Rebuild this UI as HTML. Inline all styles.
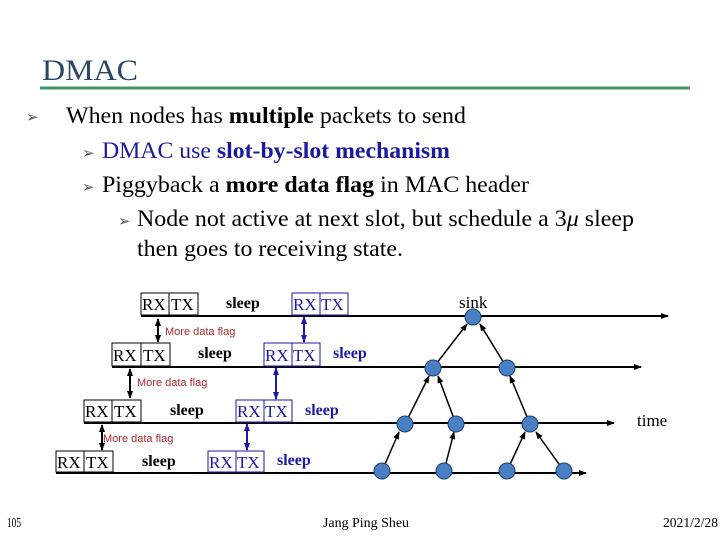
<!DOCTYPE html>
<html><head><meta charset="utf-8"><style>
html,body{margin:0;padding:0;background:#fff}
svg{display:block}
.s{font-family:"Liberation Serif",serif}
.a{font-family:"Liberation Sans",sans-serif}
</style></head><body>
<svg width="720" height="540" viewBox="0 0 720 540" xmlns="http://www.w3.org/2000/svg">
<defs>
<marker id="ak" markerWidth="8" markerHeight="8" refX="7" refY="4" orient="auto-start-reverse" markerUnits="userSpaceOnUse"><path d="M0,1 L8,4 L0,7 Z" fill="#000"/></marker>
<marker id="ab" markerWidth="8" markerHeight="8" refX="7" refY="4" orient="auto-start-reverse" markerUnits="userSpaceOnUse"><path d="M0,1 L8,4 L0,7 Z" fill="#1a1aa8"/></marker>
</defs>
<text class="s" x="42" y="80" font-size="30" fill="#2c4668" textLength="96" lengthAdjust="spacingAndGlyphs">DMAC</text>
<rect x="40" y="86.5" width="650" height="3" fill="#3c9a5c"/>
<g class="s" font-size="23">
<text x="26" y="122" font-size="15" fill="#555">➢</text>
<text x="66" y="123" textLength="400" lengthAdjust="spacingAndGlyphs">When nodes has <tspan font-weight="bold">multiple</tspan> packets to send</text>
<text x="82" y="158" font-size="15" fill="#555">➢</text>
<text x="102" y="158" fill="#1a1aa0" textLength="348" lengthAdjust="spacingAndGlyphs">DMAC use <tspan font-weight="bold">slot-by-slot mechanism</tspan></text>
<text x="82" y="192" font-size="15" fill="#555">➢</text>
<text x="102" y="192" textLength="427" lengthAdjust="spacingAndGlyphs">Piggyback a <tspan font-weight="bold">more data flag</tspan> in MAC header</text>
<text x="118" y="226" font-size="15" fill="#555">➢</text>
<text x="137" y="226" textLength="497" lengthAdjust="spacingAndGlyphs">Node not active at next slot, but schedule a 3<tspan font-style="italic">μ</tspan> sleep</text>
<text x="137" y="256" textLength="266" lengthAdjust="spacingAndGlyphs">then goes to receiving state.</text>
</g>
<g stroke="#000" stroke-width="2">
<line x1="141" y1="316" x2="668" y2="316" marker-end="url(#ak)"/>
<line x1="112" y1="367" x2="641" y2="367" marker-end="url(#ak)"/>
<line x1="84" y1="423" x2="614" y2="423" marker-end="url(#ak)"/>
<line x1="56" y1="473" x2="586" y2="473" marker-end="url(#ak)"/>
</g>
<g class="s" font-size="17">
<g fill="none" stroke="#000" stroke-width="1">
<rect x="141" y="293" width="28" height="22"/><rect x="169" y="293" width="29" height="22"/>
<rect x="112" y="343" width="29" height="23"/><rect x="141" y="343" width="29" height="23"/>
<rect x="84" y="400" width="28" height="22"/><rect x="112" y="400" width="29" height="22"/>
<rect x="56" y="451" width="28" height="21"/><rect x="84" y="451" width="29" height="21"/>
</g>
<g fill="none" stroke="#1a1aa8" stroke-width="1">
<rect x="292" y="293" width="28" height="22"/><rect x="320" y="293" width="28" height="22"/>
<rect x="264" y="343" width="28" height="23"/><rect x="292" y="343" width="28" height="23"/>
<rect x="236" y="400" width="28" height="22"/><rect x="264" y="400" width="28" height="22"/>
<rect x="208" y="451" width="28" height="21"/><rect x="236" y="451" width="28" height="21"/>
</g>
<g fill="#000">
<text x="142" y="310">RX</text><text x="171" y="310">TX</text>
<text x="113" y="361">RX</text><text x="143" y="361">TX</text>
<text x="85" y="417">RX</text><text x="114" y="417">TX</text>
<text x="57" y="468">RX</text><text x="86" y="468">TX</text>
</g>
<g fill="#1a1aa8">
<text x="293" y="310">RX</text><text x="321" y="310">TX</text>
<text x="265" y="361">RX</text><text x="293" y="361">TX</text>
<text x="237" y="417">RX</text><text x="265" y="417">TX</text>
<text x="209" y="468">RX</text><text x="237" y="468">TX</text>
</g>
<g font-weight="bold" font-size="16">
<text x="226" y="308">sleep</text>
<text x="198" y="358">sleep</text>
<text x="170" y="415">sleep</text>
<text x="142" y="466">sleep</text>
<g fill="#1a1aa8">
<text x="333" y="358">sleep</text>
<text x="305" y="415">sleep</text>
<text x="277" y="465">sleep</text>
</g>
</g>
<text x="459" y="308" font-size="17">sink</text>
<text x="637" y="426" font-size="17">time</text>
</g>
<g stroke="#000" stroke-width="2">
<line x1="158" y1="319" x2="158" y2="342" marker-start="url(#ak)" marker-end="url(#ak)"/>
<line x1="130" y1="369" x2="130" y2="398" marker-start="url(#ak)" marker-end="url(#ak)"/>
<line x1="102" y1="425" x2="102" y2="450" marker-start="url(#ak)" marker-end="url(#ak)"/>
</g>
<g stroke="#1a1aa8" stroke-width="2">
<line x1="304" y1="317" x2="304" y2="342" marker-start="url(#ab)" marker-end="url(#ab)"/>
<line x1="276" y1="368" x2="276" y2="399" marker-start="url(#ab)" marker-end="url(#ab)"/>
<line x1="247" y1="424" x2="247" y2="450" marker-start="url(#ab)" marker-end="url(#ab)"/>
</g>
<g class="a" font-size="11" fill="#b02828">
<text x="165" y="335">More data flag</text>
<text x="137" y="386">More data flag</text>
<text x="103" y="442">More data flag</text>
</g>
<g stroke="#000" stroke-width="1.5">
<line x1="433" y1="368" x2="467" y2="324" marker-end="url(#ak)"/>
<line x1="507" y1="368" x2="480" y2="324" marker-end="url(#ak)"/>
<line x1="405" y1="424" x2="429" y2="376" marker-end="url(#ak)"/>
<line x1="456" y1="424" x2="438" y2="376" marker-end="url(#ak)"/>
<line x1="530" y1="424" x2="510" y2="376" marker-end="url(#ak)"/>
<line x1="382" y1="471" x2="399" y2="432" marker-end="url(#ak)"/>
<line x1="444" y1="471" x2="454" y2="432" marker-end="url(#ak)"/>
<line x1="507" y1="471" x2="525" y2="432" marker-end="url(#ak)"/>
<line x1="564" y1="471" x2="536" y2="432" marker-end="url(#ak)"/>
</g>
<g fill="#4a7fc4" stroke="#1f3f6a" stroke-width="1">
<circle cx="473" cy="317" r="8"/>
<circle cx="433" cy="368" r="8"/><circle cx="507" cy="368" r="8"/>
<circle cx="405" cy="424" r="8"/><circle cx="456" cy="424" r="8"/><circle cx="530" cy="424" r="8"/>
<circle cx="382" cy="471" r="8"/><circle cx="444" cy="471" r="8"/><circle cx="507" cy="471" r="8"/><circle cx="564" cy="471" r="8"/>
</g>
<g class="s" font-size="14">
<text x="7" y="527" textLength="14" lengthAdjust="spacingAndGlyphs">105</text>
<text x="323" y="527" textLength="86" lengthAdjust="spacingAndGlyphs">Jang Ping Sheu</text>
<text x="663" y="527" textLength="55" lengthAdjust="spacingAndGlyphs">2021/2/28</text>
</g>
</svg>
</body></html>
